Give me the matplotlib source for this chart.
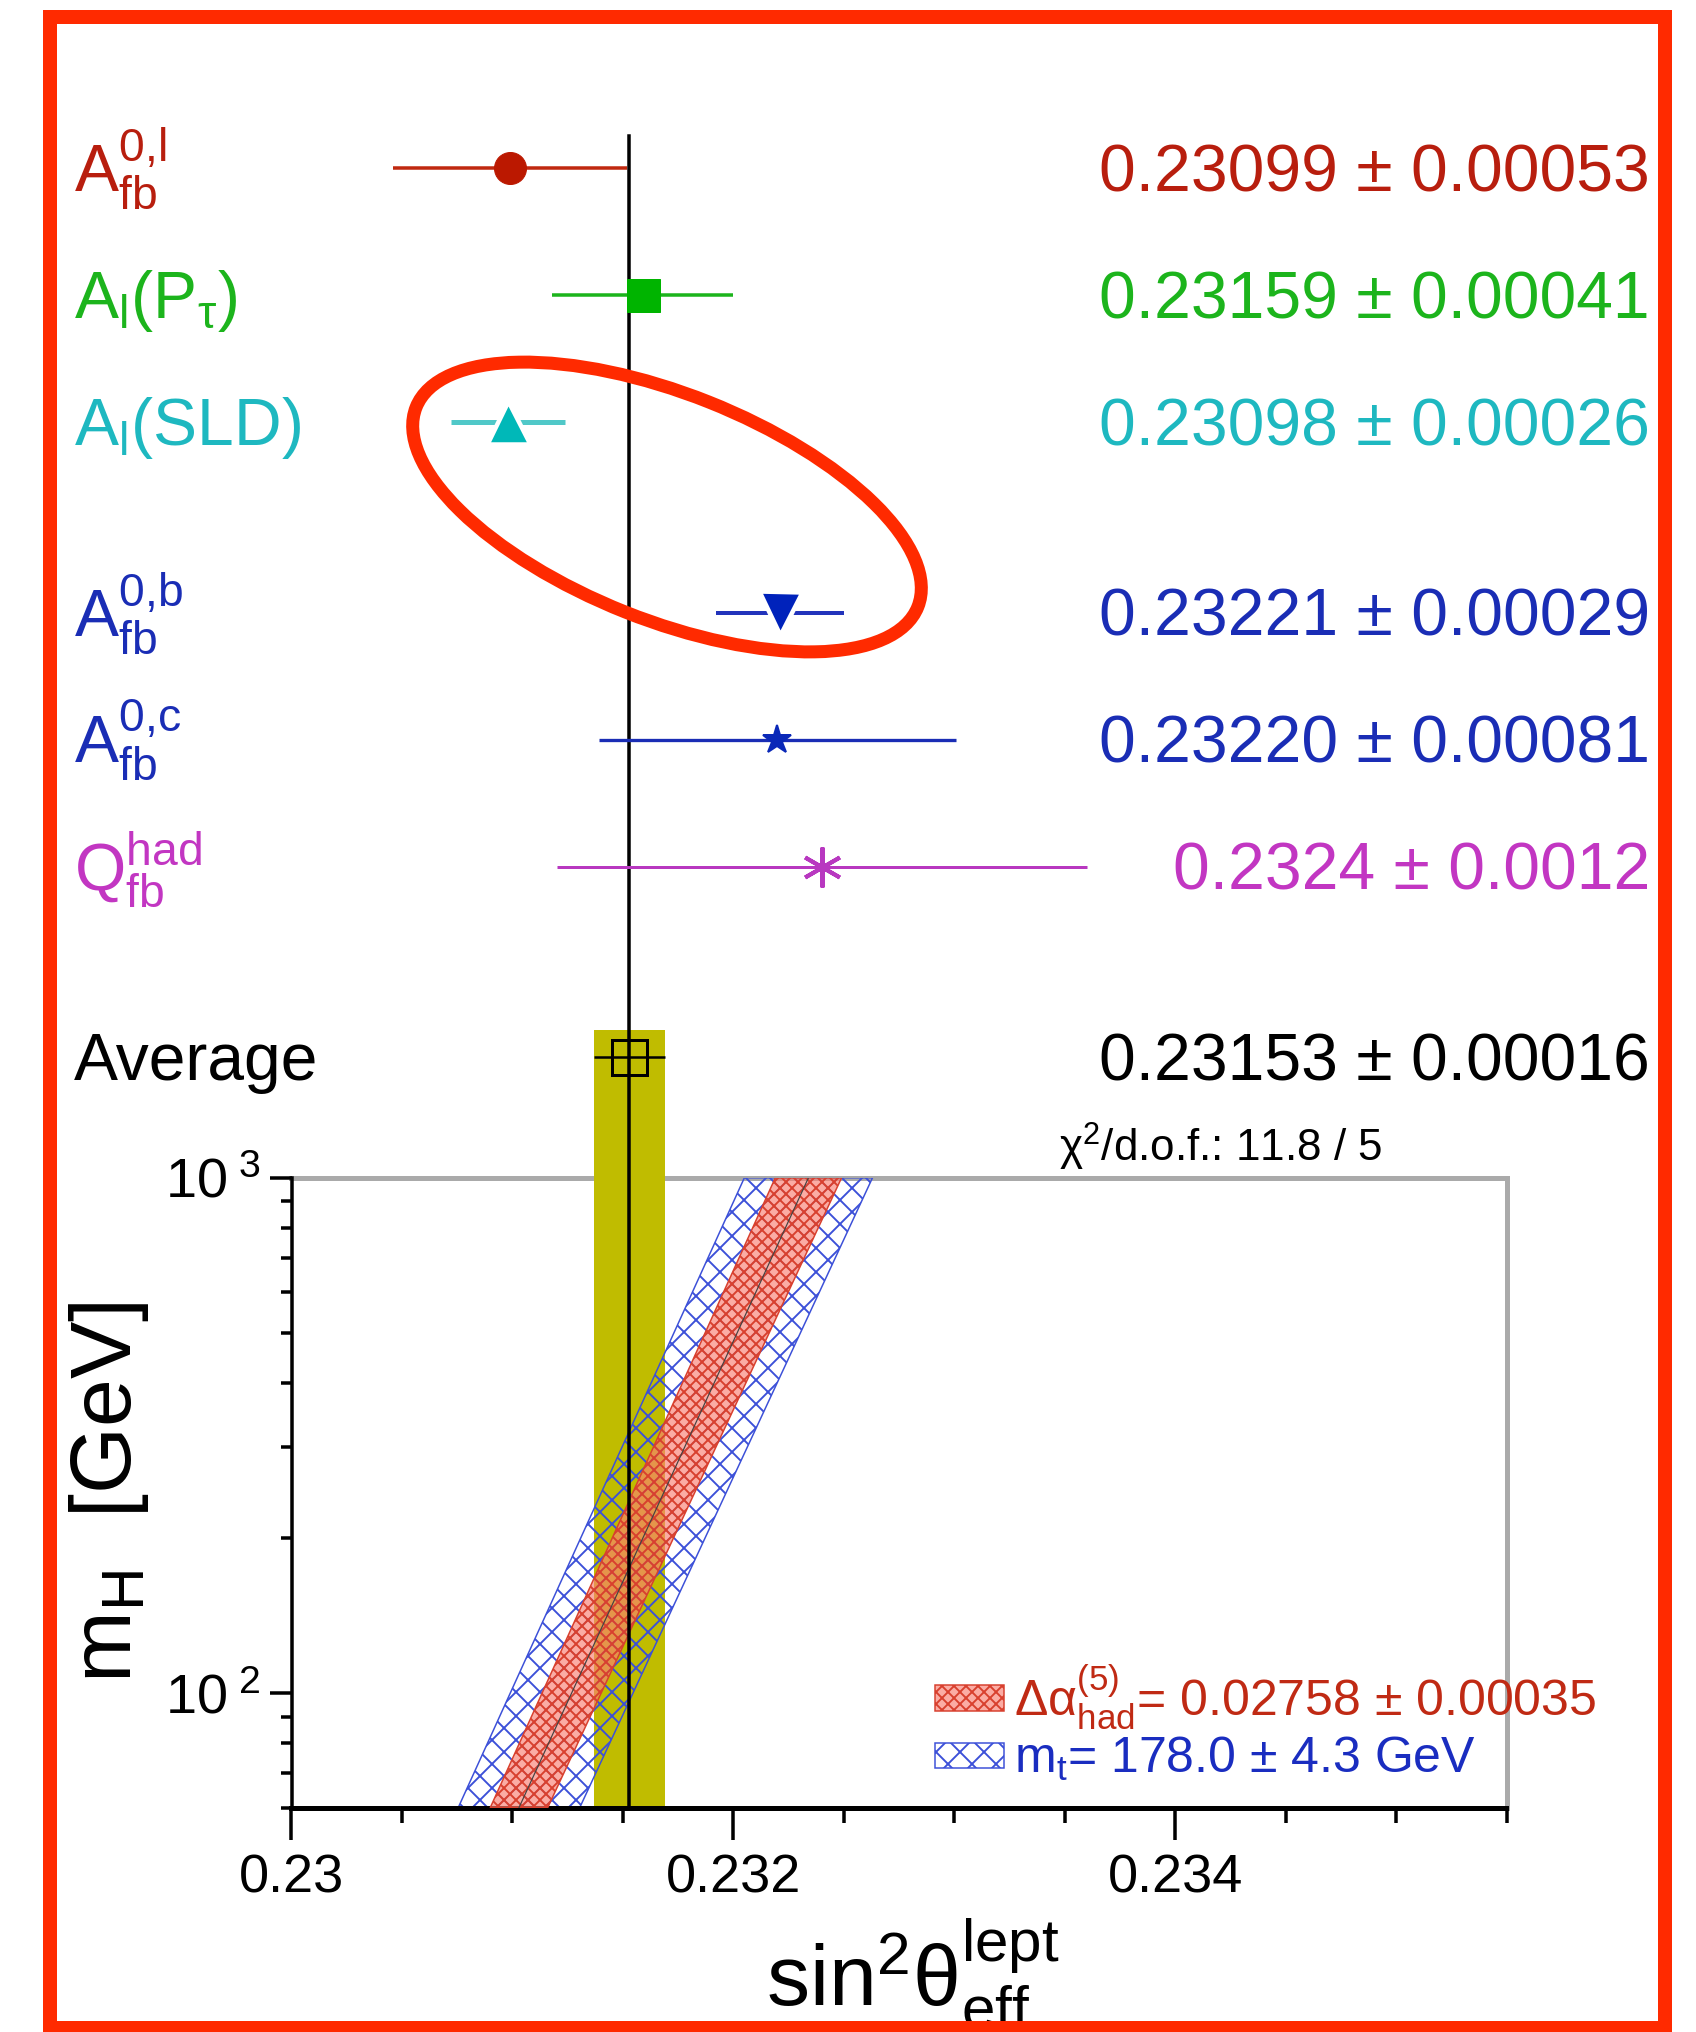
import matplotlib.pyplot as plt
from matplotlib import transforms
from matplotlib.patches import Rectangle, Ellipse
from matplotlib.ticker import MultipleLocator, FixedLocator, FixedFormatter, LogLocator, NullFormatter, FuncFormatter

plt.rcParams['font.family'] = ['Liberation Sans', 'DejaVu Sans']
plt.rcParams['mathtext.fontset'] = 'custom'
plt.rcParams['mathtext.rm'] = 'Liberation Sans'
plt.rcParams['mathtext.it'] = 'Liberation Sans:italic'
plt.rcParams['mathtext.bf'] = 'Liberation Sans:bold'
plt.rcParams['hatch.linewidth'] = 1.9

# measurements of sin^2 theta_eff^lept
labels = [r'$\mathregular{A_{fb}^{0{,}l}}$', r'$\mathregular{A_l(P_\tau)}$', r'$\mathregular{A_l(SLD)}$',
          r'$\mathregular{A_{fb}^{0{,}b}}$', r'$\mathregular{A_{fb}^{0{,}c}}$', r'$\mathregular{Q_{fb}^{had}}$',
          'Average']
values = [0.23099, 0.23159, 0.23098, 0.23221, 0.23220, 0.2324, 0.23153]
errors = [0.00053, 0.00041, 0.00026, 0.00029, 0.00081, 0.0012, 0.00016]
digits = [5, 5, 5, 5, 5, 4, 5]
rows = [0, 1, 2, 3.5, 4.5, 5.5, 7]
chi2_text = r'$\mathregular{\chi^2}$/d.o.f.: 11.8 / 5'

# SM prediction bands in the (sin2theta, mH) plane
mh = [60, 1000]
sm_center = [0.23103, 0.23234]
dalpha_half = [0.00013, 0.00015]
mtop_half = [0.000275, 0.00029]
dalpha_label = r'$\mathregular{\Delta\alpha_{had}^{(5)}}$= 0.02758 ± 0.00035'
mtop_label = r'$\mathregular{m_t}$= 178.0 ± 4.3 GeV'

# styles (figure is rendered at 72 dpi, so 1 pt == 1 px)
text_cols = ['#b81e0e', '#1cb41c', '#1eb8c0', '#1a2db5', '#1a2db5', '#c236c2', 'black']
mark_cols = ['#bb1800', '#00b400', '#00b8b8', '#0022bb', '#0a28b8', '#b838c0', 'black']
line_cols = ['#c0280f', '#1cb41c', '#50c8c8', '#2233bb', '#1a2db5', '#b838c0', 'black']
markers = ['o', 's', '^', 'v', '*', (6, 2, 0), 's']
msizes = [32, 33, 43, 43, 30, 40, 35]
mews = [1, 1, 4.5, 4.5, 2, 4, 3]
lws = [3.5, 3.5, 5, 4, 3.3, 3, 2.5]
yellow = '#c0bc00'
frame_red = '#ff2a00'
fs = 66

W, H = 1696, 2032
DPI = 72
fig = plt.figure(figsize=(W / DPI, H / DPI), dpi=DPI)
L, R = 291.5, 1506.5
T_bot, B_bot = 1177.8, 1807.5
ax = fig.add_axes([L / W, 1 - B_bot / H, (R - L) / W, (B_bot - T_bot) / H])
top = fig.add_axes([L / W, 1 - T_bot / H, (R - L) / W, T_bot / H])
xlim = (0.23, 0.2355)
top_ylim = (7.948, -1.326)

avg, avg_err = values[-1], errors[-1]

# ---- upper panel: measurements
top.set_xlim(xlim)
top.set_ylim(top_ylim)
top.axis('off')
top.plot([avg, avg], [-0.255, top_ylim[0]], color='black', lw=3.5, zorder=5)
band_top = rows[-1] - 0.214
top.add_patch(Rectangle((avg - avg_err, band_top), 2 * avg_err, top_ylim[0] - band_top,
                        facecolor=yellow, edgecolor='none', zorder=1))
for i in range(len(values)):
    mfc = 'none' if labels[i] == 'Average' else mark_cols[i]
    mec = 'white' if markers[i] in ('^', 'v') else mark_cols[i]
    top.errorbar(values[i], rows[i], xerr=errors[i], fmt='', marker=markers[i], ls='none',
                 color=mark_cols[i], ecolor=line_cols[i], elinewidth=lws[i], capsize=0,
                 ms=msizes[i], mfc=mfc, mec=mec, mew=mews[i], zorder=6)

lab_tr = transforms.blended_transform_factory(fig.transFigure, top.transData) + \
    transforms.ScaledTranslation(0, -23 / DPI, fig.dpi_scale_trans)
for i in range(len(values)):
    top.text(74 / W, rows[i], labels[i], transform=lab_tr, ha='left', va='baseline',
             fontsize=fs, color=text_cols[i])
    s = f'{values[i]:.{digits[i]}f} ± {errors[i]:.{digits[i]}f}'
    top.text(1650 / W, rows[i], s, transform=lab_tr, ha='right', va='baseline',
             fontsize=fs, color=text_cols[i])

# ---- lower panel: mH vs sin2theta
ax.set_yscale('log')
ax.set_xlim(xlim)
ax.set_ylim(mh[0], mh[1])
ax.axvspan(avg - avg_err, avg + avg_err, facecolor=yellow, edgecolor='none', zorder=1)
lo_b = [c - h for c, h in zip(sm_center, mtop_half)]
hi_b = [c + h for c, h in zip(sm_center, mtop_half)]
lo_r = [c - h for c, h in zip(sm_center, dalpha_half)]
hi_r = [c + h for c, h in zip(sm_center, dalpha_half)]
blue_hatch = dict(facecolor='none', edgecolor='#3c50d8', hatch='x', lw=1.5)
red_hatch = dict(facecolor=(0.98, 0.5, 0.45, 0.65), edgecolor='#d8402e', hatch='xx', lw=1.5)
ax.fill_betweenx(mh, lo_b, hi_b, zorder=2, **blue_hatch)
ax.fill_betweenx(mh, lo_r, hi_r, zorder=3, **red_hatch)
ax.plot(sm_center, mh, color='#444444', lw=1.2, zorder=4)
ax.axvline(avg, color='black', lw=3.5, zorder=5)

for side in ('top', 'right'):
    ax.spines[side].set_color('#aaaaaa')
    ax.spines[side].set_linewidth(5)
    ax.spines[side].set_zorder(0.5)
ax.spines['left'].set_linewidth(3.5)
ax.spines['bottom'].set_linewidth(5)

ax.xaxis.set_major_locator(MultipleLocator(0.002))
ax.xaxis.set_minor_locator(MultipleLocator(0.0005))
ax.xaxis.set_major_formatter(FuncFormatter(lambda v, p: f'{v:g}'))
ax.yaxis.set_major_locator(FixedLocator([100, 1000]))
ax.yaxis.set_major_formatter(FixedFormatter([r'$\mathregular{10^{\ 2}}$', r'$\mathregular{10^{\ 3}}$']))
ax.yaxis.set_minor_locator(LogLocator(subs=range(2, 10)))
ax.yaxis.set_minor_formatter(NullFormatter())
ax.tick_params(axis='x', which='major', direction='out', length=32, width=3.5, labelsize=54, pad=14)
ax.tick_params(axis='x', which='minor', direction='out', length=15, width=3.5)
ax.tick_params(axis='y', which='major', direction='out', length=22, width=3.5, labelsize=56, pad=9)
ax.tick_params(axis='y', which='minor', direction='out', length=11, width=3.5)

ax.text(0.632, 1.025, chi2_text, transform=ax.transAxes, ha='left', va='baseline', fontsize=44)

# legend drawn by hand
ax.add_patch(Rectangle((0.530, 0.154), 0.0565, 0.041, transform=ax.transAxes, zorder=6, **red_hatch))
ax.add_patch(Rectangle((0.530, 0.062), 0.0565, 0.041, transform=ax.transAxes, zorder=6, **blue_hatch))
ax.text(0.595, 0.144, dalpha_label, transform=ax.transAxes, ha='left', va='baseline',
        fontsize=50, color='#c02a14', zorder=10)
ax.text(0.595, 0.0556, mtop_label, transform=ax.transAxes, ha='left', va='baseline',
        fontsize=50, color='#1a2dc0', zorder=10)

fig.text(913 / W, 1 - 2006 / H, r'$\mathregular{sin^2\theta_{eff}^{lept}}$', ha='center',
         va='baseline', fontsize=86)
fig.text(109 / W, 1 - 1492 / H, r'$\mathregular{m_H}$  [GeV]', rotation=90, ha='center',
         va='center', fontsize=86)

# red frame and highlight ellipse
over = fig.add_axes([0, 0, 1, 1], zorder=20)
over.set_xlim(0, W)
over.set_ylim(H, 0)
over.axis('off')
over.patch.set_alpha(0)
over.add_patch(Rectangle((50, 17), 1615, 2011, fill=False, edgecolor=frame_red, lw=14))
over.add_patch(Ellipse((667, 507), 540, 226, angle=21.7, fill=False, edgecolor=frame_red, lw=13))

fig.savefig('out.png', dpi=DPI)
